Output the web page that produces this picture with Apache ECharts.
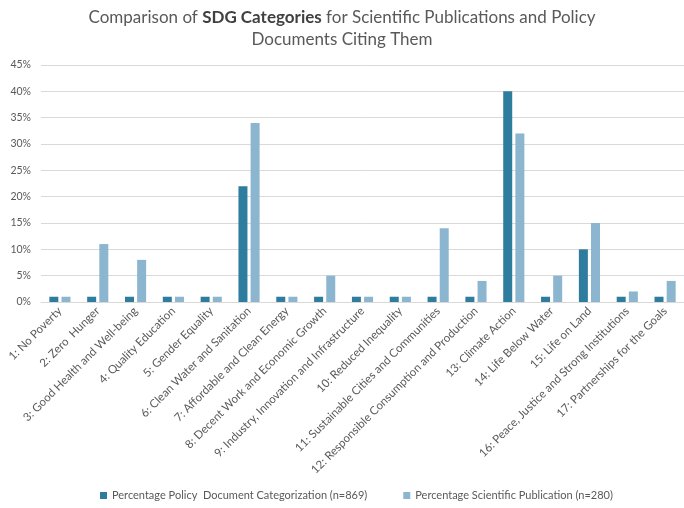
<!DOCTYPE html>
<html>
<head>
<meta charset="utf-8">
<script src="https://cdn.jsdelivr.net/npm/echarts@6/dist/echarts.min.js"></script>
<style>
  html, body { margin: 0; padding: 0; background: #fff; }
  #chart { width: 684px; height: 508px; }
</style>
</head>
<body>
<div id="chart"></div>
<script>
// SDG categories along the x axis
const categories = [
  '1: No Poverty',
  '2: Zero  Hunger',
  '3: Good Health and Well-being',
  '4: Quality Education',
  '5: Gender Equality',
  '6: Clean Water and Sanitation',
  '7: Affordable and Clean Energy',
  '8: Decent Work and Economic Growth',
  '9: Industry, Innovation and Infrastructure',
  '10: Reduced Inequality',
  '11: Sustainable Cities and Communities',
  '12: Responsible Consumption and Production',
  '13: Climate Action',
  '14: Life Below Water',
  '15: Life on Land',
  '16: Peace, Justice and Strong Institutions',
  '17: Partnerships for the Goals'
];

// Share of documents per SDG (percent)
const policyDocs = [1, 1, 1, 1, 1, 22, 1, 1, 1, 1, 1, 1, 40, 1, 10, 1, 1];
const sciPubs    = [1, 11, 8, 1, 1, 34, 1, 5, 1, 1, 14, 4, 32, 5, 15, 2, 4];

const seriesNames = [
  'Percentage Policy  Document Categorization (n=869)',
  'Percentage Scientific Publication (n=280)'
];

const yTicks = { min: 0, max: 45, interval: 5 };

const FONT = 'Lato, "Liberation Sans", sans-serif';
const TEXT = '#595959';

const chart = echarts.init(document.getElementById('chart'), null, { renderer: 'canvas' });

chart.setOption({
  backgroundColor: '#ffffff',
  animation: false,
  title: {
    text: 'Comparison of {b|SDG Categories} for Scientific Publications and Policy\nDocuments Citing Them',
    left: 'center',
    top: 2,
    textStyle: {
      fontFamily: FONT,
      fontSize: 17,
      fontWeight: 'normal',
      color: TEXT,
      lineHeight: 22,
      rich: {
        b: { fontFamily: FONT, fontSize: 17, fontWeight: 'bold', color: '#404040', lineHeight: 22 }
      }
    }
  },
  legend: {
    bottom: 2,
    left: 95,
    itemWidth: 7,
    itemHeight: 7,
    itemGap: 36,
    icon: 'rect',
    data: [
      { name: seriesNames[0], textStyle: { width: 250 } },
      { name: seriesNames[1] }
    ],
    textStyle: { fontFamily: FONT, fontSize: 11, color: TEXT }
  },
  grid: {
    left: 41,
    top: 65,
    width: 650,
    bottom: 206,
    containLabel: false
  },
  xAxis: {
    type: 'category',
    data: categories,
    axisLine: { lineStyle: { color: '#d9d9d9', width: 1 } },
    axisTick: { show: false },
    axisLabel: {
      interval: 0,
      rotate: 45,
      margin: 7,
      fontFamily: FONT,
      fontSize: 11.5,
      color: TEXT
    }
  },
  yAxis: {
    type: 'value',
    min: yTicks.min,
    max: yTicks.max,
    interval: yTicks.interval,
    axisLine: { show: false },
    axisTick: { show: false },
    splitLine: { lineStyle: { color: '#d9d9d9', width: 1 } },
    axisLabel: {
      formatter: '{value}%',
      margin: 10,
      fontFamily: FONT,
      fontSize: 10.5,
      color: TEXT
    }
  },
  series: [
    {
      name: seriesNames[0],
      type: 'bar',
      data: policyDocs,
      barWidth: 9,
      barGap: '35%',
      itemStyle: { color: '#2e7d9f' }
    },
    {
      name: seriesNames[1],
      type: 'bar',
      data: sciPubs,
      barWidth: 9,
      barGap: '35%',
      itemStyle: { color: '#8cb6cf' }
    }
  ]
});
</script>
</body>
</html>
